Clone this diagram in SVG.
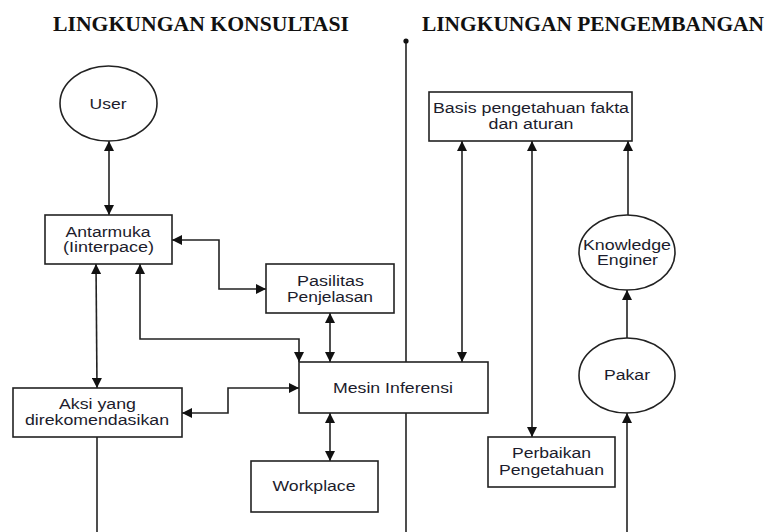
<svg xmlns="http://www.w3.org/2000/svg" width="766" height="532" viewBox="0 0 766 532">
<style>
.box{fill:#fff;stroke:#222;stroke-width:1.6}
.lbl{font-family:"Liberation Sans",Arial,sans-serif;font-size:15.5px;fill:#1c1c2c;text-anchor:middle}
.ttl{font-family:"Liberation Serif","Times New Roman",serif;font-size:21px;font-weight:bold;fill:#111}
.c{fill:none;stroke:#222;stroke-width:1.6}
</style>
<defs>
<marker id="ah" viewBox="0 0 10 10" refX="10" refY="5" markerWidth="10" markerHeight="10" markerUnits="userSpaceOnUse" orient="auto-start-reverse">
<path d="M0,0 L10,5 L0,10 Z" fill="#111"/>
</marker>
</defs>
<text class="ttl" x="53" y="31" textLength="296" lengthAdjust="spacingAndGlyphs">LINGKUNGAN KONSULTASI</text>
<text class="ttl" x="422" y="31" textLength="342" lengthAdjust="spacingAndGlyphs">LINGKUNGAN PENGEMBANGAN</text>
<g id="connectors">
<line class="c" x1="406" y1="42" x2="406" y2="532"/>
<circle cx="406" cy="41" r="2.6" fill="#111"/>
<path class="c" d="M109,141 V215" marker-start="url(#ah)" marker-end="url(#ah)"/>
<path class="c" d="M266,289 H219 V240 H172" marker-start="url(#ah)" marker-end="url(#ah)"/>
<path class="c" d="M96,264 L97,388" marker-start="url(#ah)" marker-end="url(#ah)"/>
<path class="c" d="M140,264 V339 H299 V362" marker-start="url(#ah)" marker-end="url(#ah)"/>
<path class="c" d="M330,313 V362" marker-start="url(#ah)" marker-end="url(#ah)"/>
<path class="c" d="M182,413 H228 V388 H299" marker-start="url(#ah)" marker-end="url(#ah)"/>
<path class="c" d="M330,413 V461" marker-start="url(#ah)" marker-end="url(#ah)"/>
<path class="c" d="M462,141 V362" marker-start="url(#ah)" marker-end="url(#ah)"/>
<path class="c" d="M532,141 V437" marker-start="url(#ah)" marker-end="url(#ah)"/>
<path class="c" d="M628,215 V141" marker-end="url(#ah)"/>
<path class="c" d="M627,338 V290" marker-end="url(#ah)"/>
<path class="c" d="M627,532 V413" marker-end="url(#ah)"/>
<path class="c" d="M97,437 V532"/>
</g>
<g id="user">
<ellipse class="box" cx="108.5" cy="103.5" rx="48.5" ry="37.5"/>
<text class="lbl" x="108" y="108.5" textLength="37" lengthAdjust="spacingAndGlyphs">User</text>
</g>
<g id="antarmuka">
<rect class="box" x="45" y="215" width="127" height="49"/>
<text class="lbl" x="108" y="236.5" textLength="85" lengthAdjust="spacingAndGlyphs">Antarmuka</text>
<text class="lbl" x="108.5" y="252" textLength="91" lengthAdjust="spacingAndGlyphs">(Iinterpace)</text>
</g>
<g id="pasilitas">
<rect class="box" x="266" y="264" width="128" height="49"/>
<text class="lbl" x="330.5" y="285.5" textLength="67" lengthAdjust="spacingAndGlyphs">Pasilitas</text>
<text class="lbl" x="330" y="302" textLength="86" lengthAdjust="spacingAndGlyphs">Penjelasan</text>
</g>
<g id="aksi">
<rect class="box" x="13" y="388" width="169" height="49"/>
<text class="lbl" x="97.5" y="409" textLength="77" lengthAdjust="spacingAndGlyphs">Aksi yang</text>
<text class="lbl" x="97" y="425" textLength="144" lengthAdjust="spacingAndGlyphs">direkomendasikan</text>
</g>
<g id="mesin">
<rect class="box" x="299" y="362" width="189" height="51"/>
<text class="lbl" x="393" y="393" textLength="120" lengthAdjust="spacingAndGlyphs">Mesin Inferensi</text>
</g>
<g id="workplace">
<rect class="box" x="251" y="461" width="127" height="51"/>
<text class="lbl" x="314" y="491" textLength="83" lengthAdjust="spacingAndGlyphs">Workplace</text>
</g>
<g id="basis">
<rect class="box" x="429" y="92" width="203" height="49"/>
<text class="lbl" x="531" y="113" textLength="196" lengthAdjust="spacingAndGlyphs">Basis pengetahuan fakta</text>
<text class="lbl" x="531" y="129" textLength="85" lengthAdjust="spacingAndGlyphs">dan aturan</text>
</g>
<g id="knowledge-engineer">
<ellipse class="box" cx="627" cy="252.5" rx="48" ry="37.5"/>
<text class="lbl" x="627" y="249.5" textLength="88" lengthAdjust="spacingAndGlyphs">Knowledge</text>
<text class="lbl" x="627.5" y="265" textLength="61" lengthAdjust="spacingAndGlyphs">Enginer</text>
</g>
<g id="pakar">
<ellipse class="box" cx="627" cy="375.5" rx="48" ry="37.5"/>
<text class="lbl" x="627" y="380" textLength="46" lengthAdjust="spacingAndGlyphs">Pakar</text>
</g>
<g id="perbaikan">
<rect class="box" x="488" y="437" width="127" height="50"/>
<text class="lbl" x="551.5" y="457.5" textLength="79" lengthAdjust="spacingAndGlyphs">Perbaikan</text>
<text class="lbl" x="551.5" y="475" textLength="105" lengthAdjust="spacingAndGlyphs">Pengetahuan</text>
</g>
</svg>
